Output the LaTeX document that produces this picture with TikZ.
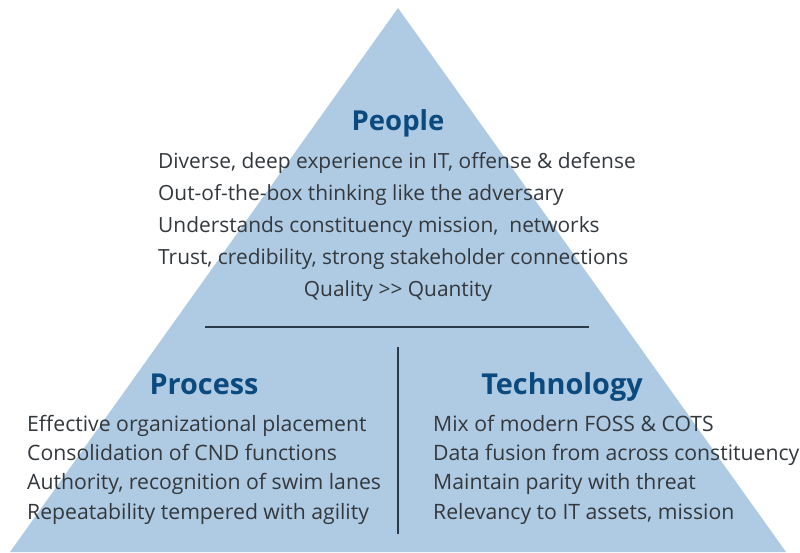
\documentclass[tikz,border=0pt]{standalone}
\usepackage{fontspec}
\setmainfont{Open Sans}
\usetikzlibrary{positioning}

\definecolor{pyramidblue}{HTML}{AFCBE3}
\definecolor{titleblue}{HTML}{0B4A7E}
\definecolor{bodygray}{HTML}{33383D}
\definecolor{rulegray}{HTML}{2B3A48}

\begin{document}
\begin{tikzpicture}[x=1pt,y=1pt,
  heading/.style={font=\fontsize{27.5}{30}\selectfont\bfseries,text=titleblue,inner sep=0pt,anchor=base},
  item/.style={font=\fontsize{20.9}{24}\selectfont,text=bodygray,inner sep=0pt,anchor=base west},
  separator/.style={draw=rulegray,line width=1.2pt}]
  \useasboundingbox (0,0) rectangle (800,552);

  % pyramid
  \fill[pyramidblue] (398,544) -- (786,0) -- (10,0) -- cycle;

  % people
  \node[heading] (people) at (398,421) {People};
  \foreach \txt [count=\i] in {{Diverse, deep experience in IT, offense \& defense},
                               {Out-of-the-box thinking like the adversary},
                               {Understands constituency mission,~ networks},
                               {Trust, credibility, strong stakeholder connections}}
    \node[item] (people\i) at (158,415.5-32*\i) {\txt};
  \node[item,anchor=base] (quality) at (398,255.5) {Quality >\kern0pt> Quantity};

  % separators
  \coordinate (hleft)  at (205,225);
  \coordinate (hright) at (589,225);
  \coordinate (vtop)   at (398,205);
  \coordinate (vbot)   at (398,18);
  \draw[separator] (hleft) -- (hright);
  \draw[separator] (vtop) -- (vbot);

  % process
  \node[heading,font=\fontsize{28.8}{30}\selectfont\bfseries] (process) at (204,158) {Process};
  \foreach \txt [count=\i] in {{Effective organizational placement},
                               {Consolidation of CND functions},
                               {Authority, recognition of swim lanes},
                               {Repeatability tempered with agility}}
    \node[item,font=\fontsize{21.2}{24}\selectfont] (process\i) at (27,150-29.3*\i) {\txt};

  % technology
  \node[heading,font=\fontsize{28.8}{30}\selectfont\bfseries] (technology) at (562,158) {Technology};
  \foreach \txt [count=\i] in {{Mix of modern FOSS \& COTS},
                               {Data fusion from across constituency},
                               {Maintain parity with threat},
                               {Relevancy to IT assets, mission}}
    \node[item,font=\fontsize{21.2}{24}\selectfont] (technology\i) at (433,150-29.3*\i) {\txt};
\end{tikzpicture}
\end{document}
